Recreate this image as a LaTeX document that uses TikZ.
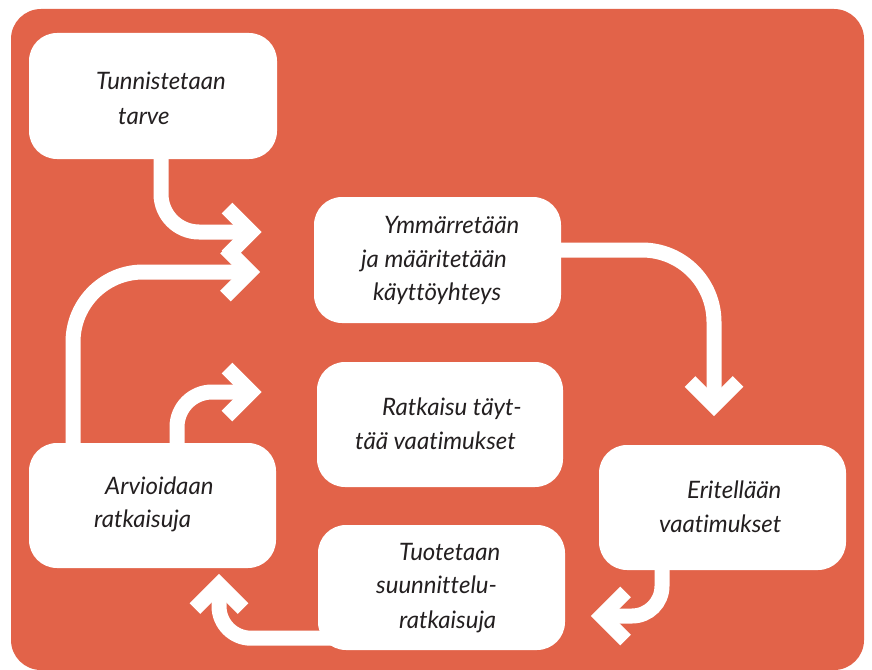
\documentclass[tikz,border=0pt]{standalone}
\usepackage{fontspec}
\setmainfont{Lato}[Ligatures=NoCommon]
\usetikzlibrary{calc}
\definecolor{bgor}{RGB}{226,99,73}
\definecolor{txt}{RGB}{35,31,32}
\tikzset{
  box/.style={fill=white, rounded corners=28pt, inner sep=0pt},
  conn/.style={draw=white, line width=15pt, line cap=butt},
  chev/.style={draw=white, line width=15pt, line cap=butt, line join=miter, miter limit=10},
  lbl/.style={anchor=base west, inner sep=0pt, text=txt, font=\itshape\fontsize{24}{28}\selectfont},
  chevR/.pic={\draw[chev] (-24,-24)--(0,0)--(-24,24);},
  chevL/.pic={\draw[chev] (24,-24)--(0,0)--(24,24);},
  chevU/.pic={\draw[chev] (-24,24)--(0,0)--(24,24);},
  chevD/.pic={\draw[chev] (-24,-24)--(0,0)--(24,-24);},
}
\begin{document}
\begin{tikzpicture}[x=1pt,y=-1pt]
\useasboundingbox (0,0) rectangle (872,669);
\fill[bgor, rounded corners=30pt] (11,9) rectangle (864,670);

% boxes
\node[box, minimum width=248pt, minimum height=126pt] (b1) at (153,96) {};
\node[box, minimum width=247pt, minimum height=126pt] (b2) at (437.5,260) {};
\node[box, minimum width=246pt, minimum height=125pt] (b3) at (440,424.5) {};
\node[box, minimum width=247pt, minimum height=125pt] (b4) at (152.5,505.5) {};
\node[box, minimum width=247pt, minimum height=125pt] (b5) at (722.5,507.5) {};
\node[box, minimum width=247pt, minimum height=125pt] (b6) at (441.5,587.5) {};

% arrow head positions
\coordinate (hA) at (251,232);
\coordinate (hB) at (249.5,272);
\coordinate (hC) at (251,392);
\coordinate (hD) at (714,405.5);
\coordinate (hE) at (601.5,616);
\coordinate (hF) at (219,584.5);

% connectors
\draw[conn, rounded corners=38pt] ($(b1.south)+(8,-2)$) |- (hA);
\draw[conn, rounded corners=70pt] ($(b4.north)+(-79.5,2)$) |- (hB);
\draw[conn, rounded corners=35pt] ($(b4.north)+(24.5,2)$) |- (hC);
\draw[conn, rounded corners=72pt] ($(b2.east)+(-2,-10)$) -| (hD);
\draw[conn, rounded corners=30pt] ($(b5.south)+(-60.5,-2)$) |- (hE);
\draw[conn, rounded corners=32pt] ($(b6.south west)+(24,-12)$) -| (hF);

\pic at (hA) {chevR};
\pic at (hB) {chevR};
\pic at (hC) {chevR};
\pic at (hD) {chevD};
\pic at (hE) {chevL};
\pic at (hF) {chevU};

% labels
\node[lbl] (t1a) at (96,89) {Tunnistetaan};
\node[lbl] (t1b) at (118,124) {tarve};
\node[lbl] (t2a) at (384,233) {Ymmärretään};
\node[lbl] (t2b) at (361,267) {ja määritetään};
\node[lbl] (t2c) at (373,300) {käyttöyhteys};
\node[lbl] (t3a) at (382,415) {Ratkaisu täyt-};
\node[lbl] (t3b) at (355,449) {tää vaatimukset};
\node[lbl] (t4a) at (105,494) {Arvioidaan};
\node[lbl] (t4b) at (94,527) {ratkaisuja};
\node[lbl] (t5a) at (687,498) {Eritellään};
\node[lbl] (t5b) at (659,532) {vaatimukset};
\node[lbl] (t6a) at (399,560) {Tuotetaan};
\node[lbl] (t6b) at (376,593) {suunnittelu-};
\node[lbl] (t6c) at (399,628) {ratkaisuja};
\end{tikzpicture}
\end{document}
